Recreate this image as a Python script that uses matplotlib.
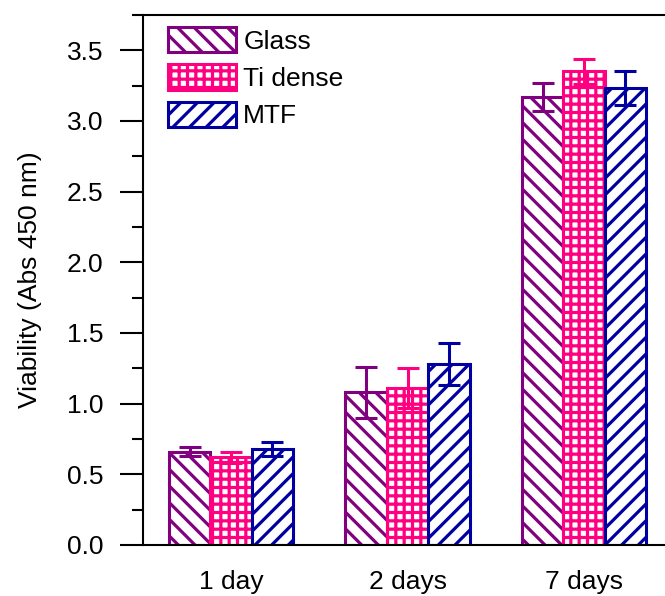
import numpy as np
import matplotlib
matplotlib.use("Agg")
import matplotlib.pyplot as plt
from matplotlib.ticker import MultipleLocator

plt.rcParams["font.family"] = ["Liberation Sans", "DejaVu Sans"]
plt.rcParams["hatch.linewidth"] = 2.3

# 数据
days = ["1 day", "2 days", "7 days"]
series = ["Glass", "Ti dense", "MTF"]
glass = [0.66, 1.08, 3.17]
glass_err = [0.03, 0.18, 0.10]
ti_dense = [0.62, 1.11, 3.35]
ti_dense_err = [0.04, 0.14, 0.09]
mtf = [0.68, 1.28, 3.23]
mtf_err = [0.05, 0.15, 0.12]

colors = ["#800080", "#FF0080", "#0000A0"]
hatches = ["\\\\", "++", "//"]

fig = plt.figure(figsize=(6.65, 5.96), dpi=100)
ax = fig.add_axes([0.2147, 0.0856, 0.7962, 0.8893])

x = np.arange(len(days))
w = 0.235
values = [glass, ti_dense, mtf]
errors = [glass_err, ti_dense_err, mtf_err]

for i, (vals, errs) in enumerate(zip(values, errors)):
    pos = x + (i - 1) * w
    ax.bar(pos, vals, w, facecolor="white", edgecolor=colors[i],
           hatch=hatches[i], linewidth=2.2, label=series[i], zorder=2)
    ax.errorbar(pos, vals, yerr=errs, fmt="none", ecolor=colors[i],
                elinewidth=2.2, capsize=8, capthick=2.2, zorder=3)

ax.set_xlim(-0.5, 2.5)
ax.set_ylim(0, 3.75)
ax.set_xticks(x)
ax.set_xticklabels(days, fontsize=19)
ax.yaxis.set_minor_locator(MultipleLocator(0.25))
ticks = np.arange(0, 3.51, 0.5)
ax.set_yticks(ticks)
ax.set_yticklabels([f"{v:.1f}" for v in ticks], fontsize=19)
ax.tick_params(axis="y", which="major", length=16.5, width=1.5, pad=12)
ax.tick_params(axis="y", which="minor", length=8, width=1.5)
ax.tick_params(axis="x", length=0, pad=18)
for s in ax.spines.values():
    s.set_linewidth(1.5)

ax.set_ylabel("Viability (Abs 450 nm)", fontsize=19, labelpad=18)

ax.legend(loc="upper left", bbox_to_anchor=(0.0477, 0.977), frameon=False,
          fontsize=19, handlelength=2.58, handleheight=1.1, labelspacing=0.4,
          handletextpad=0.27, borderaxespad=0, borderpad=0)

fig.savefig("out.png", dpi=100)
